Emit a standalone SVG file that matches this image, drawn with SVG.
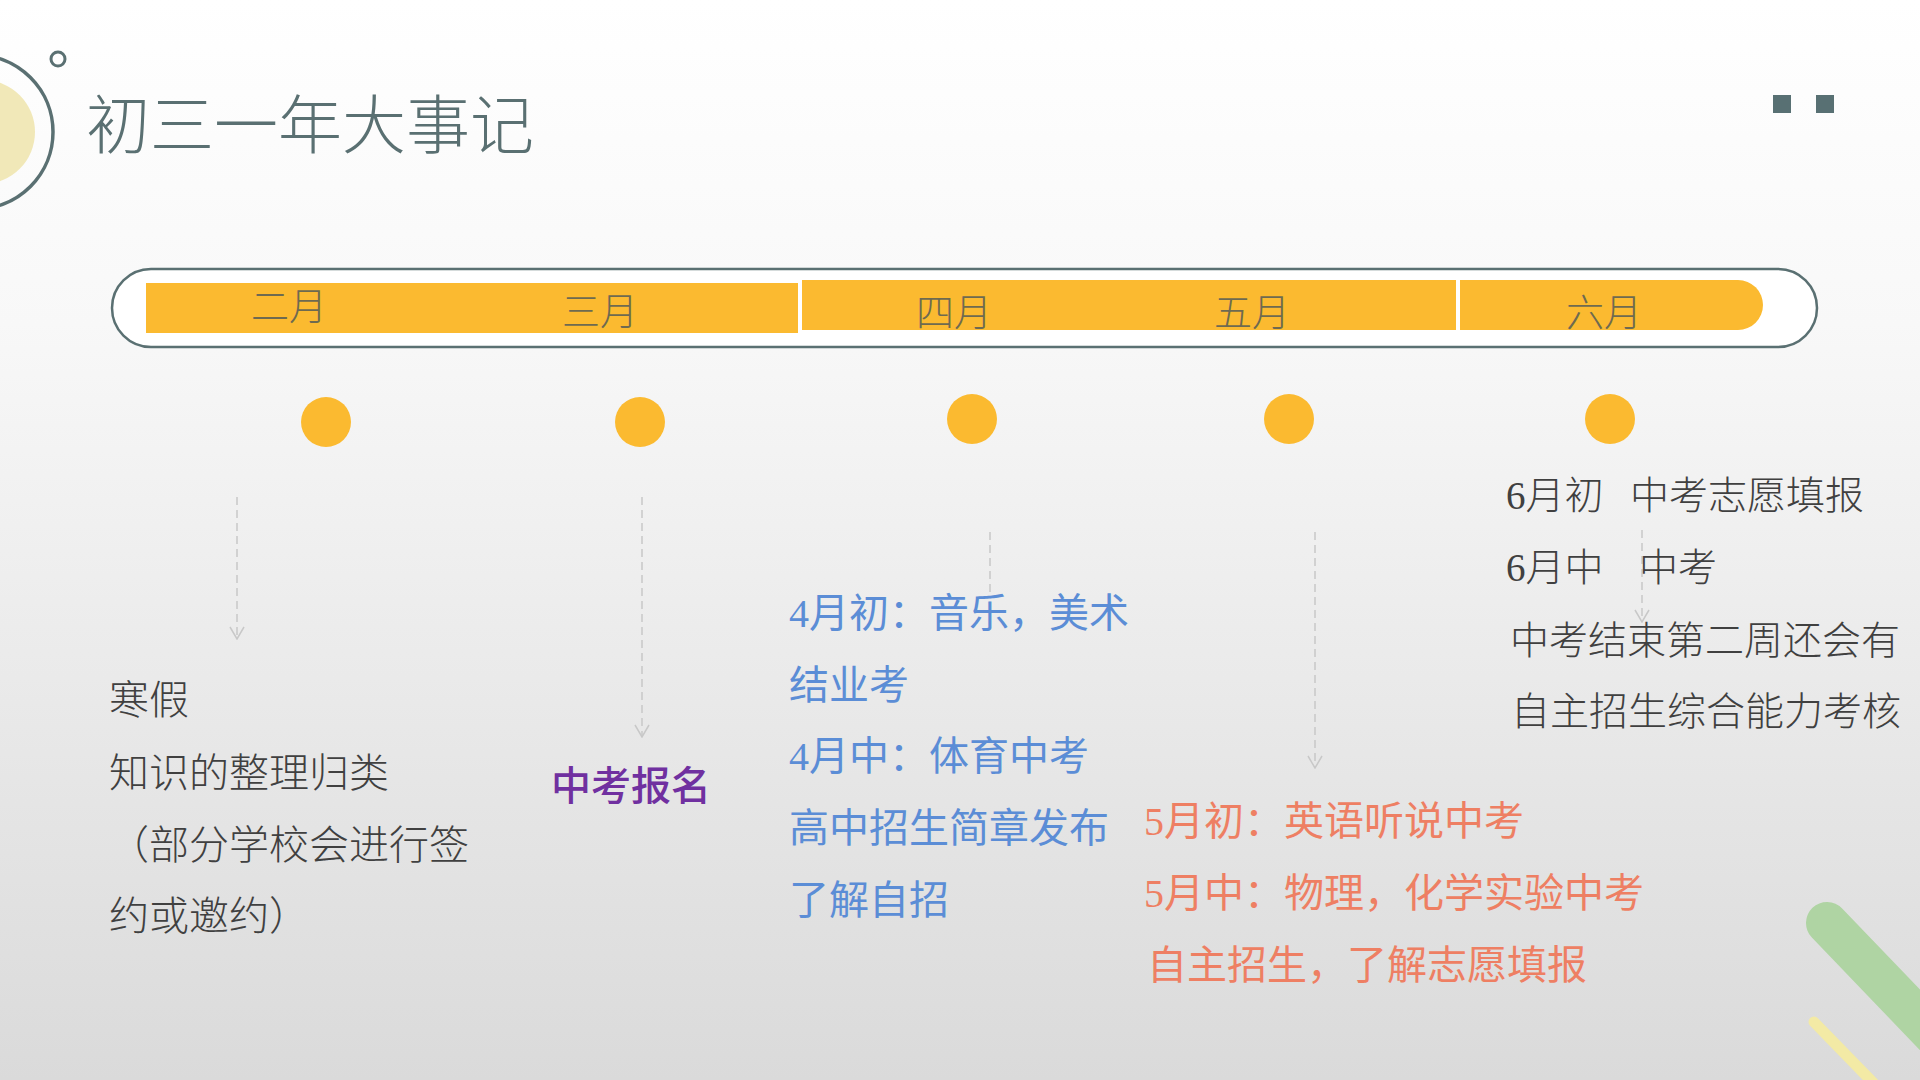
<svg xmlns="http://www.w3.org/2000/svg" width="1920" height="1080" viewBox="0 0 1920 1080">
<defs>
<linearGradient id="bg" x1="0" y1="0" x2="0" y2="1">
<stop offset="0" stop-color="#ffffff"/>
<stop offset="0.3" stop-color="#f8f8f8"/>
<stop offset="1" stop-color="#dadada"/>
</linearGradient>
<marker id="arrd" viewBox="0 0 16 14" refX="8" refY="13" markerWidth="16" markerHeight="14" markerUnits="userSpaceOnUse" orient="0">
<path d="M1 1 L8 13 L15 1" fill="none" stroke="#c8c8c8" stroke-width="1.5"/>
</marker>
</defs>
<style>
.t{font-family:"Liberation Serif","Noto Sans CJK SC",serif;font-size:40px}
.gray{fill:#404040;font-weight:300}
.blue{fill:#5b8dd6}
.red{fill:#ee7f63}
.purple{fill:#7030a0;font-weight:500}
.mon{font-family:"Liberation Serif","Noto Sans CJK SC",serif;font-size:38px;fill:#6e6a50;font-weight:300;text-anchor:middle}
.dot{fill:#fbba30}
.bar{fill:#fbba30}
.dash{stroke:#c8c8c8;stroke-width:1.5;stroke-dasharray:8 5;fill:none}
</style>
<rect x="0" y="0" width="1920" height="1080" fill="url(#bg)"/>

<g id="decor">
<circle cx="-17" cy="132" r="52" fill="#f1e8b8"/>
<circle cx="-24" cy="132" r="77" fill="none" stroke="#5a7072" stroke-width="3.5"/>
<circle cx="58" cy="59" r="7" fill="none" stroke="#5a7072" stroke-width="3"/>
<rect x="1773" y="95" width="18" height="18" fill="#587073"/>
<rect x="1816" y="95" width="18" height="18" fill="#587073"/>
<line x1="1827" y1="923" x2="1995" y2="1098" stroke="#afd4a3" stroke-width="42" stroke-linecap="round"/>
<line x1="1814" y1="1022" x2="1890" y2="1100" stroke="#f3eaa5" stroke-width="11" stroke-linecap="round"/>
</g>

<g id="title">
<text x="86" y="148" style="font-family:'Noto Sans CJK SC',sans-serif;font-size:64px;font-weight:300;fill:#5a7072">初三一年大事记</text>
</g>

<g id="timeline">
<rect x="112" y="269" width="1705" height="78" rx="39" fill="#ffffff" stroke="#5a7072" stroke-width="2.5"/>
<rect class="bar" x="146" y="283" width="652" height="50"/>
<rect class="bar" x="802" y="280" width="654" height="50"/>
<path class="bar" d="M1460 280 H1738 A25 25 0 0 1 1738 330 H1460 Z"/>
<text class="mon" x="289" y="320">二月</text>
<text class="mon" x="600" y="325">三月</text>
<text class="mon" x="954" y="326">四月</text>
<text class="mon" x="1252" y="326">五月</text>
<text class="mon" x="1604" y="326">六月</text>
</g>

<g id="connectors">
<line class="dash" x1="237" y1="497" x2="237" y2="639" marker-end="url(#arrd)"/>
<line class="dash" x1="642" y1="497" x2="642" y2="737" marker-end="url(#arrd)"/>
<line class="dash" x1="990" y1="532" x2="990" y2="598"/>
<line class="dash" x1="1315" y1="532" x2="1315" y2="768" marker-end="url(#arrd)"/>
<line class="dash" x1="1642" y1="530" x2="1642" y2="622" marker-end="url(#arrd)"/>
</g>

<g id="node-feb">
<circle class="dot" cx="326" cy="422" r="25"/>
<text class="t gray" x="109" y="714">寒假</text>
<text class="t gray" x="109" y="787">知识的整理归类</text>
<text class="t gray" x="109" y="859">（部分学校会进行签</text>
<text class="t gray" x="109" y="930">约或邀约）</text>
</g>

<g id="node-mar">
<circle class="dot" cx="640" cy="422" r="25"/>
<text class="t purple" x="551" y="800">中考报名</text>
</g>

<g id="node-apr">
<circle class="dot" cx="972" cy="419" r="25"/>
<text class="t blue" x="789" y="627">4月初：音乐，美术</text>
<text class="t blue" x="789" y="699">结业考</text>
<text class="t blue" x="789" y="770">4月中：体育中考</text>
<text class="t blue" x="789" y="842">高中招生简章发布</text>
<text class="t blue" x="789" y="914">了解自招</text>
</g>

<g id="node-may">
<circle class="dot" cx="1289" cy="419" r="25"/>
<text class="t red" x="1144" y="835">5月初：英语听说中考</text>
<text class="t red" x="1144" y="907">5月中：物理，化学实验中考</text>
<text class="t red" x="1147" y="979">自主招生，了解志愿填报</text>
</g>

<g id="node-jun">
<circle class="dot" cx="1610" cy="419" r="25"/>
<text class="t gray" style="font-size:39px" y="509"><tspan x="1506">6月初</tspan><tspan x="1630">中考志愿填报</tspan></text>
<text class="t gray" style="font-size:39px" y="581"><tspan x="1506">6月中</tspan><tspan x="1639">中考</tspan></text>
<text class="t gray" style="font-size:39px" x="1510" y="654">中考结束第二周还会有</text>
<text class="t gray" style="font-size:39px" x="1511" y="725">自主招生综合能力考核</text>
</g>
</svg>
